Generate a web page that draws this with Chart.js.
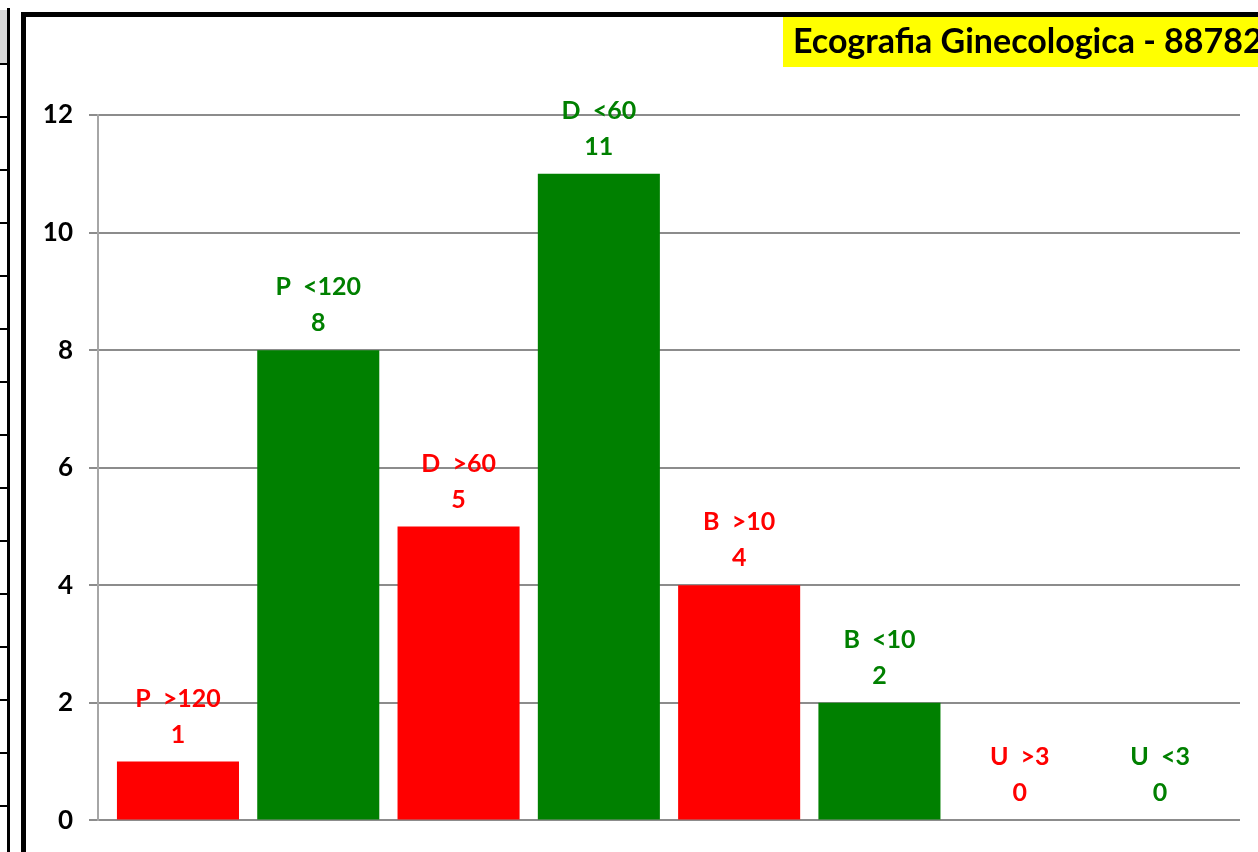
<!DOCTYPE html>
<html>
<head>
<meta charset="utf-8">
<script src="https://cdn.jsdelivr.net/npm/chart.js@4/dist/chart.umd.min.js"></script>
<style>
  html, body { margin: 0; padding: 0; background: #fff; }
  canvas { display: block; }
</style>
</head>
<body>
<canvas id="chart" width="1258" height="852"></canvas>
<script>
// categories and counts
const categories = ['P  >120', 'P  <120', 'D  >60', 'D  <60', 'B  >10', 'B  <10', 'U  >3', 'U  <3'];
const counts = [1, 8, 5, 11, 4, 2, 0, 0];
const barColors = ['#FF0000', '#008000', '#FF0000', '#008000', '#FF0000', '#008000', '#FF0000', '#008000'];
const yTicks = [0, 2, 4, 6, 8, 10, 12];
const chartTitle = 'Ecografia Ginecologica - 88782';

//--- Sheet frame, strip on the left and the title box.
const sheetFrame = {
  id: 'sheetFrame',
  beforeDraw: function(chart) {
    const { ctx, width, height } = chart;
    ctx.save();
    ctx.fillStyle = '#fff';
    ctx.fillRect(0, 0, width, height);

    // spreadsheet cells peeking in on the left
    ctx.fillStyle = '#d9d9d9';
    ctx.fillRect(0, 10, 8, 54);
    ctx.fillStyle = '#000';
    ctx.fillRect(7, 8, 3, height);
    for (let y = 63; y < height; y += 53) {
      ctx.fillRect(0, y, 8, 2);
    }

    // thick chart border
    ctx.strokeStyle = '#000';
    ctx.lineWidth = 5;
    ctx.strokeRect(23.5, 14.5, width + 20, height - 12);
    ctx.restore();
  },
  afterDraw: function(chart, args, opts) {
    const { ctx, width } = chart;
    ctx.save();
    ctx.fillStyle = '#FFFF00';
    ctx.fillRect(783, 17, width - 783, 50);
    ctx.fillStyle = '#000';
    ctx.font = 'bold 34px Lato';
    ctx.textBaseline = 'alphabetic';
    ctx.textAlign = 'left';
    ctx.fillText(opts.text, 793, 53);
    ctx.restore();
  }
};

//--- Two line labels above each bar.
const barLabels = {
  id: 'barLabels',
  afterDatasetsDraw: function(chart) {
    const { ctx } = chart;
    ctx.save();
    ctx.font = 'bold 25px Lato';
    ctx.textAlign = 'center';
    ctx.textBaseline = 'middle';
    chart.getDatasetMeta(0).data.forEach((bar, i) => {
      ctx.fillStyle = barColors[i];
      ctx.fillText(categories[i], bar.x, bar.y - 63);
      ctx.fillText(String(counts[i]), bar.x, bar.y - 27);
    });
    ctx.restore();
  }
};

new Chart(document.getElementById('chart'), {
  type: 'bar',
  data: {
    datasets: [{
      data: counts.map((v, i) => ({ x: i, y: v })),
      backgroundColor: barColors,
      borderWidth: 0,
      barPercentage: 0.87,
      categoryPercentage: 1
    }]
  },
  options: {
    responsive: false,
    animation: false,
    layout: {
      padding: { top: 115, right: 18, bottom: 27, left: 0 }
    },
    scales: {
      x: {
        type: 'linear',
        display: false,
        min: -0.57,
        max: categories.length - 1 + 0.57,
        offset: false,
        afterBuildTicks: function(scale) { scale.ticks = categories.map((c, i) => ({ value: i })); }
      },
      y: {
        min: 0,
        max: 12,
        afterFit: function(scale) { scale.width = 98; },
        afterBuildTicks: function(scale) { scale.ticks = yTicks.map(v => ({ value: v })); },
        grid: {
          color: '#8c8c8c',
          lineWidth: 2,
          tickLength: 9,
          drawTicks: true
        },
        border: { color: '#a6a6a6', width: 2 },
        ticks: {
          color: '#000',
          padding: 16,
          font: { family: 'Lato', weight: 'bold', size: 26 }
        }
      }
    },
    plugins: {
      legend: { display: false },
      tooltip: { enabled: false },
      title: { display: false },
      sheetFrame: { text: chartTitle }
    }
  },
  plugins: [sheetFrame, barLabels]
});
</script>
</body>
</html>
